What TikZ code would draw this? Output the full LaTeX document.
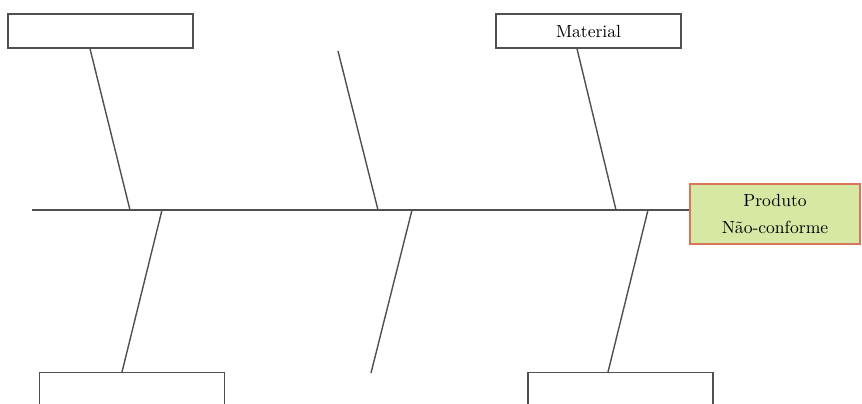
\documentclass[tikz,border=0pt]{standalone}
\usetikzlibrary{calc}
\definecolor{linha}{HTML}{505050}
\definecolor{verde}{HTML}{D6E8A4}
\definecolor{borda}{HTML}{D9765A}
\tikzset{
  causa/.style={draw=linha,line width=0.8pt,fill=white,minimum width=3.7cm,minimum height=0.68cm,inner sep=0pt},
  espinha/.style={draw=linha,line width=0.8pt}
}
\begin{document}
\begin{tikzpicture}[x=0.02cm,y=-0.02cm]
    \clip (0,0) rectangle (862,403);
    \fill[white] (0,0) rectangle (862,403);
    % caixas das causas
    \node[causa] (cA) at (100.5,31) {};
    \node[causa] (cM) at (588.5,31) {Material};
    \node[causa,anchor=north] (cB) at (132,372) {};
    \node[causa,anchor=north] (cD) at (620.5,372) {};
    % efeito
    \node[draw=borda,line width=1.4pt,fill=verde,minimum width=3.4cm,minimum height=1.2cm,align=center] (efeito) at (775,214) {Produto\\[3pt]N\~ao-conforme};
    % espinha principal
    \coordinate (cauda) at (32,210);
    \draw[espinha] (cauda) -- (cauda -| efeito.west);
    % espinhas de cima
    \draw[espinha] ($(cA.south)+(-10.5,0)$) -- (130,210);
    \draw[espinha] (338,51) -- (378,210);
    \draw[espinha] ($(cM.south)+(-11.5,0)$) -- (616,210);
    % espinhas de baixo
    \draw[espinha] (162,210) -- ($(cB.north)+(-10,0)$);
    \draw[espinha] (412,210) -- (371,373);
    \draw[espinha] (648,210) -- ($(cD.north)+(-12.5,0)$);
\end{tikzpicture}
\end{document}
